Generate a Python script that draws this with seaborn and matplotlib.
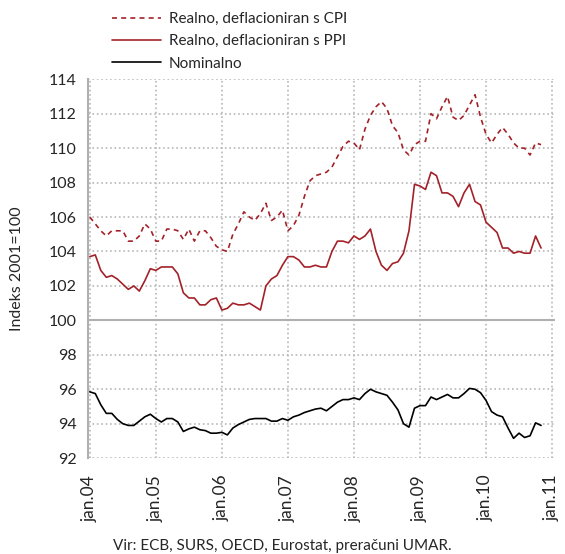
import pandas as pd
import numpy as np
import matplotlib
matplotlib.use('Agg')
import matplotlib.pyplot as plt
import seaborn as sns

# mesečni indeksi, jan.2004 - nov.2010 (2001=100)
cpi = [106.0, 105.6, 105.2, 104.9, 105.2, 105.2, 105.2, 104.6, 104.6, 104.9, 105.6, 105.3,
       104.6, 104.6, 105.3, 105.3, 105.2, 104.7, 105.3, 104.6, 105.2, 105.2, 104.8, 104.3,
       104.1, 104.0, 105.0, 105.6, 106.3, 106.0, 105.8, 106.2, 106.8, 105.8, 106.0, 106.4,
       105.2, 105.5, 106.1, 107.2, 108.1, 108.4, 108.5, 108.6, 108.9, 109.5, 110.1, 110.4,
       110.3, 109.9, 111.1, 111.9, 112.4, 112.7, 112.3, 111.3, 110.9, 109.9, 109.6, 110.2,
       110.4, 110.4, 112.0, 111.7, 112.4, 113.0, 111.8, 111.6, 111.9, 112.5, 113.1, 111.8,
       110.8, 110.3, 110.8, 111.2, 110.8, 110.3, 110.0, 110.0, 109.6, 110.3, 110.2]
ppi = [103.7, 103.8, 102.9, 102.5, 102.6, 102.4, 102.1, 101.8, 102.0, 101.7, 102.3, 103.0,
       102.9, 103.1, 103.1, 103.1, 102.7, 101.6, 101.3, 101.3, 100.9, 100.9, 101.2, 101.3,
       100.6, 100.7, 101.0, 100.9, 100.9, 101.0, 100.8, 100.6, 102.0, 102.4, 102.6, 103.2,
       103.7, 103.7, 103.5, 103.1, 103.1, 103.2, 103.1, 103.1, 104.0, 104.6, 104.6, 104.5,
       104.9, 104.7, 104.9, 105.3, 104.0, 103.2, 102.9, 103.3, 103.4, 103.9, 105.2, 107.9,
       107.8, 107.6, 108.6, 108.4, 107.4, 107.4, 107.2, 106.6, 107.4, 107.9, 106.9, 106.7,
       105.7, 105.4, 105.1, 104.2, 104.2, 103.9, 104.0, 103.9, 103.9, 104.9, 104.2]
nominalno = [95.85, 95.75, 95.1, 94.6, 94.6, 94.25, 94.0, 93.9, 93.9, 94.15, 94.4, 94.55,
             94.3, 94.1, 94.3, 94.3, 94.1, 93.55, 93.7, 93.8, 93.65, 93.6, 93.45, 93.45,
             93.5, 93.35, 93.75, 93.95, 94.1, 94.25, 94.3, 94.3, 94.3, 94.15, 94.15, 94.3,
             94.2, 94.4, 94.5, 94.65, 94.75, 94.85, 94.9, 94.75, 95.0, 95.25, 95.4, 95.4,
             95.5, 95.4, 95.75, 96.0, 95.85, 95.75, 95.65, 95.25, 94.8, 94.0, 93.8, 94.9,
             95.05, 95.05, 95.55, 95.4, 95.55, 95.7, 95.5, 95.5, 95.75, 96.05, 96.0, 95.8,
             95.35, 94.7, 94.5, 94.4, 93.75, 93.15, 93.45, 93.2, 93.3, 94.05, 93.9]

serije = ['Realno, deflacioniran s CPI', 'Realno, deflacioniran s PPI', 'Nominalno']
tick_labels = ['jan.04', 'jan.05', 'jan.06', 'jan.07', 'jan.08', 'jan.09', 'jan.10', 'jan.11']

mesec = np.arange(len(cpi))
df = pd.concat([
    pd.DataFrame({'mesec': mesec, 'indeks': cpi, 'serija': serije[0]}),
    pd.DataFrame({'mesec': mesec, 'indeks': ppi, 'serija': serije[1]}),
    pd.DataFrame({'mesec': mesec, 'indeks': nominalno, 'serija': serije[2]}),
], ignore_index=True)

sns.set_style('white')
plt.rcParams['font.family'] = ['Lato', 'DejaVu Sans']

red = '#a3222a'
fig = plt.figure(figsize=(5.65, 5.54), dpi=100)
ax = fig.add_axes([0.156, 0.173, 0.826, 0.684])

sns.lineplot(data=df, x='mesec', y='indeks', hue='serija', style='serija',
             hue_order=serije, style_order=serije,
             palette={serije[0]: red, serije[1]: red, serije[2]: 'black'},
             dashes={serije[0]: (3, 2.5), serije[1]: '', serije[2]: ''},
             linewidth=1.2, ax=ax, legend=True)

ax.set_ylim(92, 114)
ax.set_yticks(range(92, 115, 2))
ax.set_xlim(-0.3, 84.5)
ax.set_xticks(range(0, 85, 12))
ax.set_xticklabels(tick_labels, rotation=90, fontsize=12.5)
ax.tick_params(axis='y', labelsize=11.5, length=0, pad=8)
ax.tick_params(axis='x', length=0, pad=12)
ax.grid(True, color='#b8b8b8', linestyle=':', linewidth=1.2)
ax.axhline(100, color='#b0b0b0', linewidth=1.5, zorder=1)
for s in ['top', 'right', 'bottom']:
    ax.spines[s].set_visible(False)
ax.spines['left'].set_color('#b0b0b0')
ax.spines['left'].set_linewidth(1.5)
ax.set_xlabel('')
ax.set_ylabel('Indeks 2001=100', fontsize=11.5, labelpad=18)

h, l = ax.get_legend_handles_labels()
ax.get_legend().remove()
fig.legend(h, l, loc='upper left', bbox_to_anchor=(0.182, 0.995), frameon=False,
           fontsize=11, handlelength=3.2, handletextpad=0.5, labelspacing=0.55,
           borderaxespad=0.2)

fig.text(0.5, 0.0144, 'Vir: ECB, SURS, OECD, Eurostat, preračuni UMAR.', ha='center',
         va='center', fontsize=11)

fig.savefig('out.png', dpi=100)
